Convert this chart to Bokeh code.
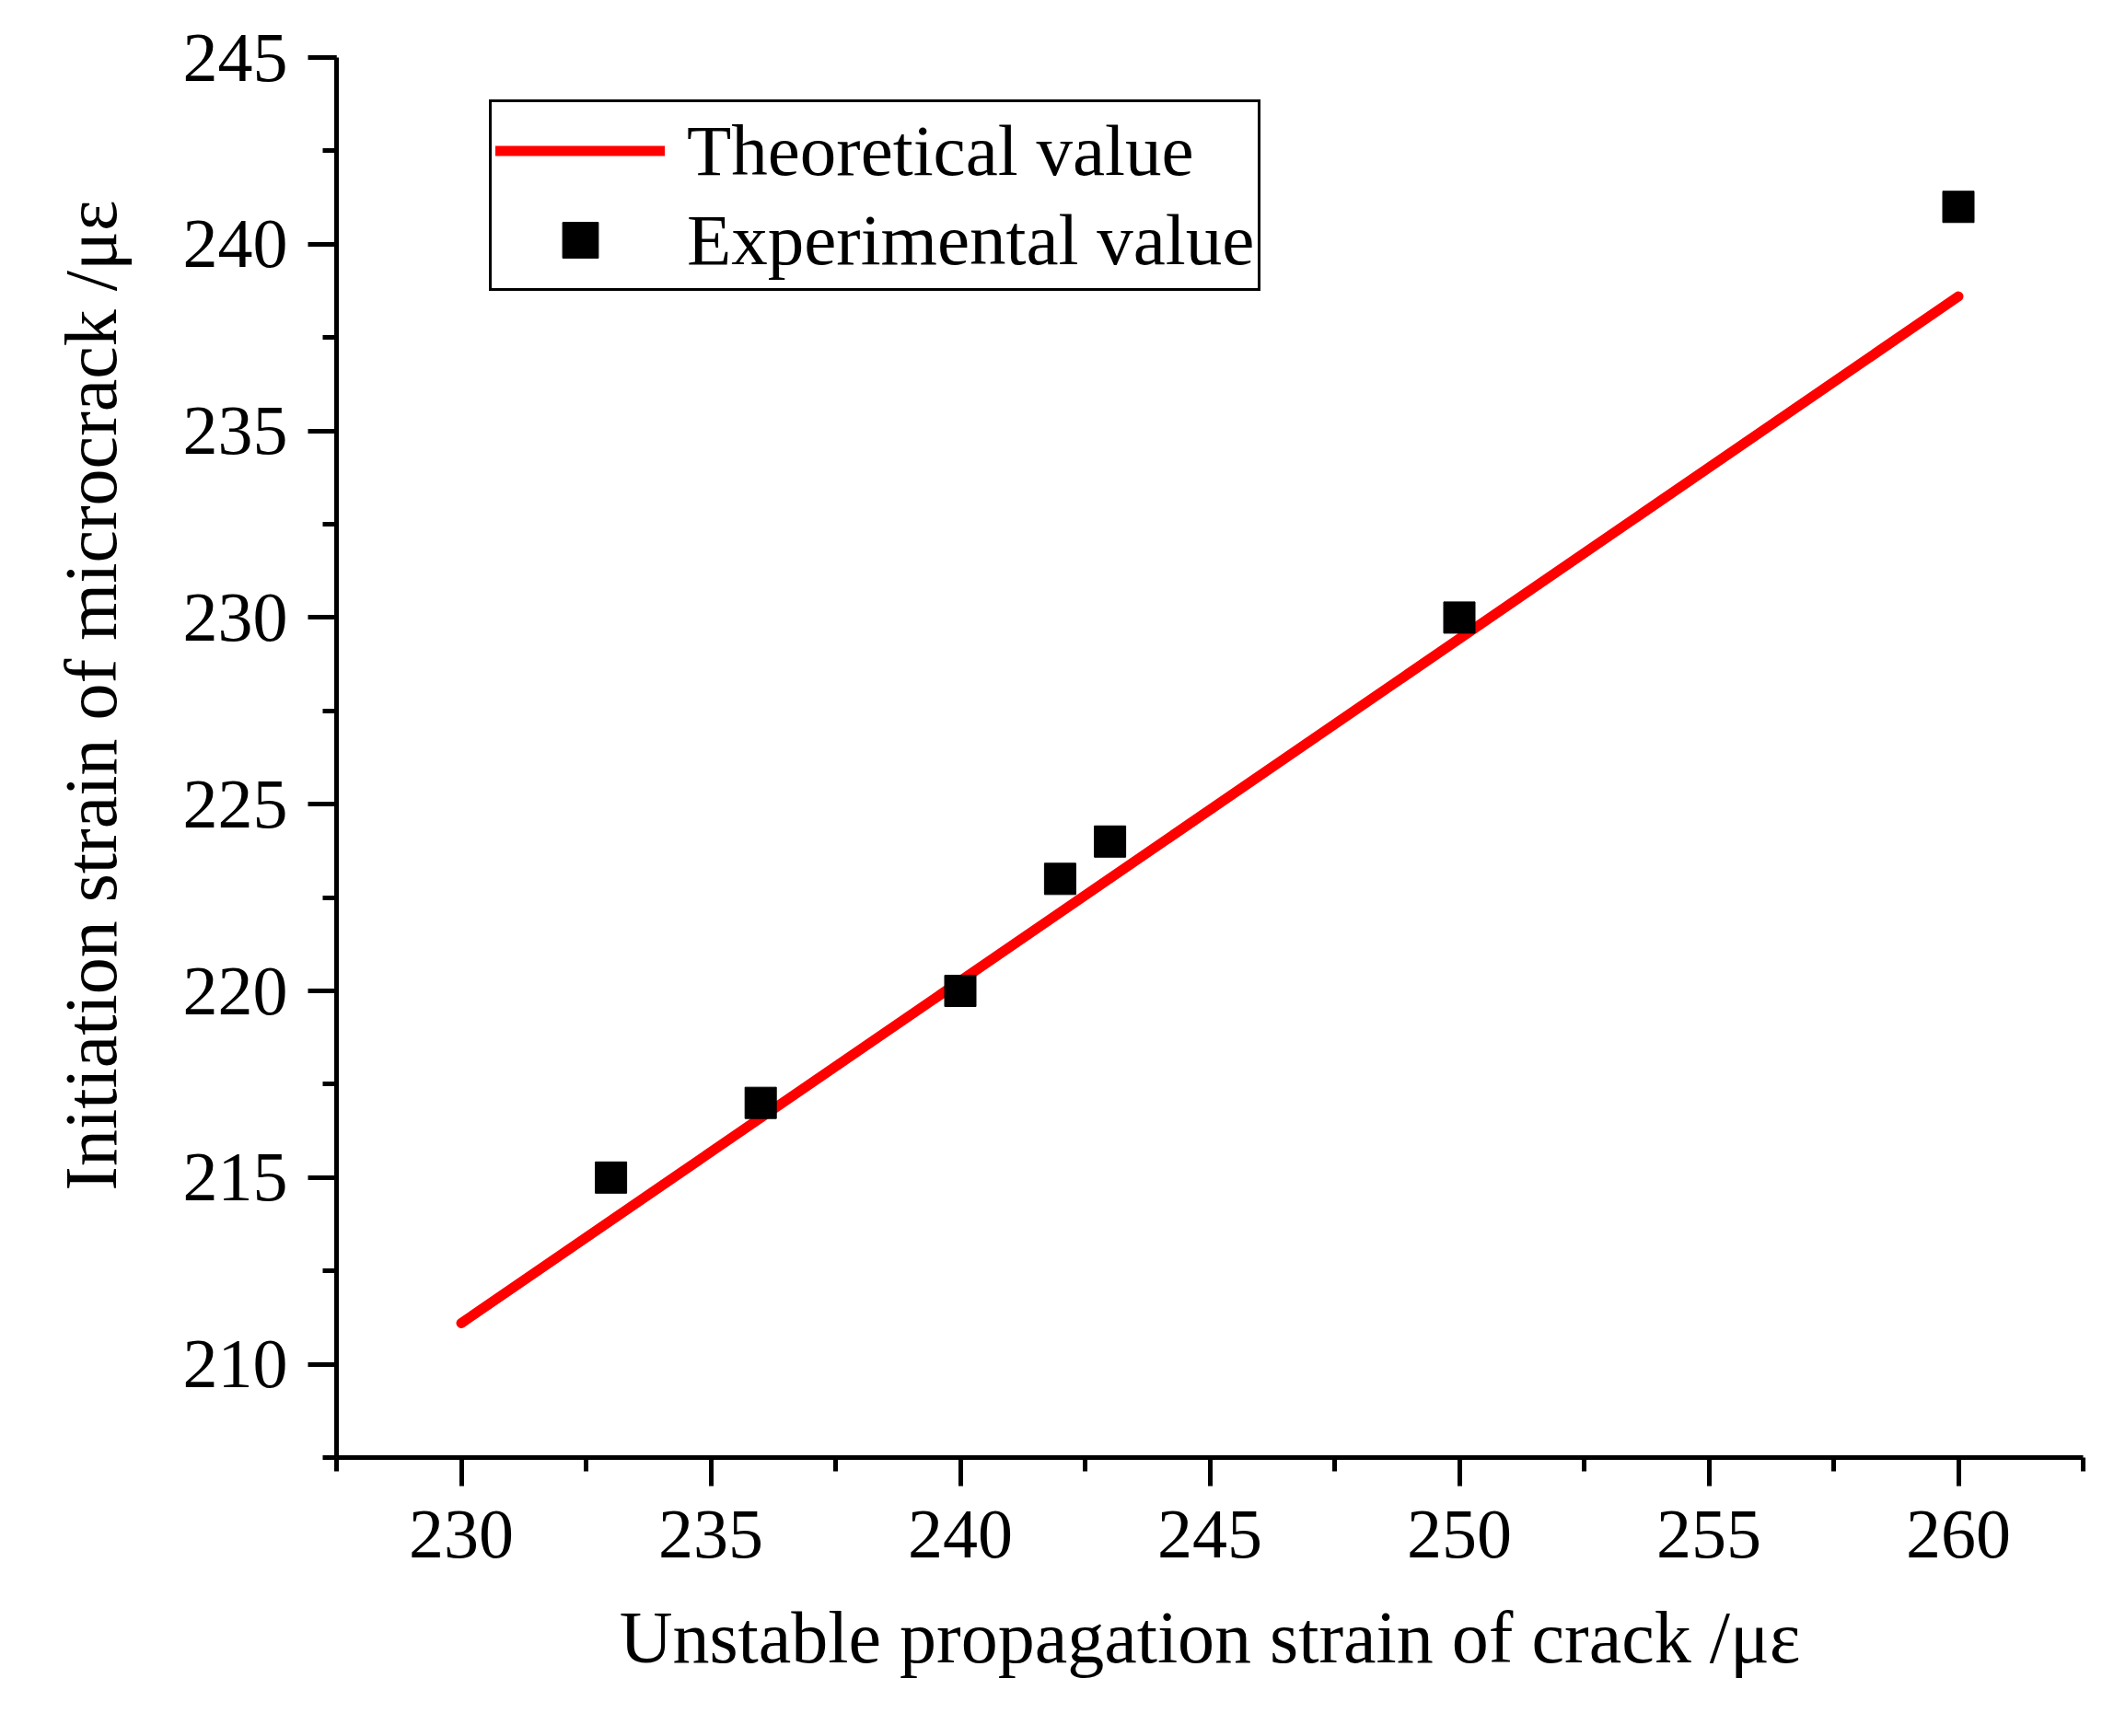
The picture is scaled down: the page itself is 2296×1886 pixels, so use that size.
from bokeh.plotting import figure
from bokeh.models import Range1d, Legend, LegendItem, FixedTicker, Title
from bokeh.embed import file_html
from bokeh.resources import INLINE

# data
theory_x = [230, 260]
theory_y = [211.1, 238.6]
exp_x = [233, 236, 240, 242, 243, 250, 260]
exp_y = [215, 217, 220, 223, 224, 230, 241]
x_ticks = [230, 235, 240, 245, 250, 255, 260]
y_ticks = [210, 215, 220, 225, 230, 235, 240, 245]
x_label = "Unstable propagation strain of crack /\u03bc\u03b5"
y_label = "Initiation strain of microcrack /\u03bc\u03b5"

FONT = "Liberation Serif"

p = figure(width=2280, height=1870, output_backend="svg", toolbar_location=None,
           x_range=Range1d(227.5, 262.5), y_range=Range1d(207.5, 245),
           min_border_left=364, min_border_right=18, min_border_top=62, min_border_bottom=287)
p.outline_line_color = None
p.grid.visible = False
p.background_fill_color = "white"

line_r = p.line(theory_x, theory_y, line_color="#ff0000", line_width=11, line_cap="round")
sq_r = p.scatter(exp_x, exp_y, marker="square", size=34, fill_color="black", line_color="black")

for ax in (p.xaxis[0], p.yaxis[0]):
    ax.axis_line_width = 5
    ax.major_tick_line_width = 5
    ax.minor_tick_line_width = 5
    ax.major_tick_out = 31
    ax.major_tick_in = 0
    ax.minor_tick_out = 15
    ax.minor_tick_in = 0
    ax.major_label_text_font = FONT
    ax.major_label_text_font_size = "76px"
    ax.major_label_text_color = "black"
    ax.axis_label_text_font = FONT
    ax.axis_label_text_font_size = "80px"
    ax.axis_label_text_font_style = "normal"
    ax.axis_label_text_color = "black"

p.xaxis.ticker = FixedTicker(ticks=x_ticks, minor_ticks=[227.5 + 2.5 * i for i in range(15)])
p.yaxis.ticker = FixedTicker(ticks=y_ticks, minor_ticks=[207.5 + 2.5 * i for i in range(16)])
p.xaxis.axis_label = x_label
p.xaxis.major_label_standoff = 27
p.yaxis.major_label_standoff = 22
p.xaxis.axis_label_standoff = 40

# y-axis title, set a little above the frame centre as in the original
ytitle = Title(text=y_label, align="right", offset=155, standoff=105,
               text_font=FONT, text_font_size="80px", text_font_style="normal",
               text_color="black")
p.add_layout(ytitle, "left")

legend = Legend(items=[LegendItem(label="Theoretical value", renderers=[line_r]),
                       LegendItem(label="Experimental value", renderers=[sq_r])],
                location=(166, 1267), glyph_width=184, glyph_height=97, label_height=97,
                padding=4, spacing=0, label_standoff=24, margin=0,
                border_line_color="black", border_line_width=3, border_line_alpha=1.0,
                background_fill_color="white", background_fill_alpha=1.0,
                label_text_font=FONT, label_text_font_size="79px", label_text_color="black")
p.add_layout(legend)

open("out.html", "w").write(file_html(p, INLINE))
